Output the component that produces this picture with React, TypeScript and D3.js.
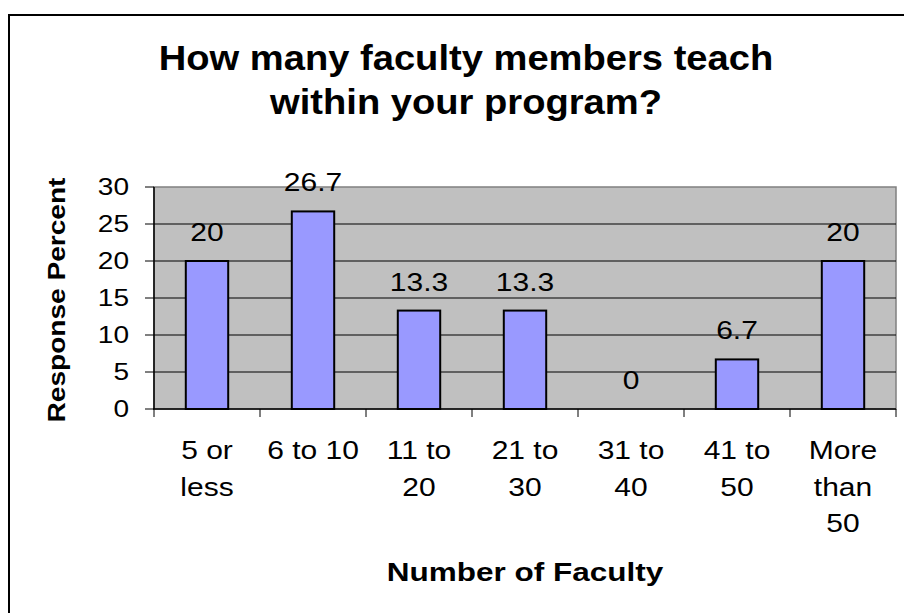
import React from 'react';
import * as d3 from 'd3';

// chart values
const categories = ['5 or less', '6 to 10', '11 to 20', '21 to 30', '31 to 40', '41 to 50', 'More than 50'];
const categoryLines = [['5 or', 'less'], ['6 to 10'], ['11 to', '20'], ['21 to', '30'], ['31 to', '40'], ['41 to', '50'], ['More', 'than', '50']];
const percents = [20, 26.7, 13.3, 13.3, 0, 6.7, 20];
const yTicks = [0, 5, 10, 15, 20, 25, 30];
const titleLines = ['How many faculty members teach', 'within your program?'];

const W = 904, H = 613;
const plot = { left: 154, right: 896, top: 187, bottom: 409 };
const font = 'Arial, "Liberation Sans", sans-serif';

// the reference font renders wider than Arial, so text gets a horizontal stretch
function SText({ x, y, sx = 1.2, rotate = 0, anchor = 'middle', size = 25, bold = false, children }: any) {
  return (
    <g transform={`translate(${x},${y}) rotate(${rotate}) scale(${sx},1)`}>
      <text textAnchor={anchor} fontSize={size} fontWeight={bold ? 'bold' : 'normal'}>{children}</text>
    </g>
  );
}

export default function App() {
  const x = d3.scaleBand<string>()
    .domain(categories)
    .range([plot.left, plot.right])
    .paddingInner(0.6)
    .paddingOuter(0.3);
  const y = d3.scaleLinear().domain([0, 30]).range([plot.bottom, plot.top]);
  const step = x.step();
  const boundaries = d3.range(categories.length + 1).map(i => plot.left + i * step);
  const mid = (c: string) => x(c)! + x.bandwidth() / 2;

  return (
    <div style={{ position: 'fixed', left: 0, top: 0 }}>
      <svg width={W} height={H} style={{ display: 'block', background: '#fff' }} fontFamily={font}>
        {/* chart frame */}
        <rect x={9} y={15} width={1000} height={1000} fill="none" stroke="#000" strokeWidth={2} />

        {titleLines.map((t, i) => (
          <SText key={t} x={466} y={70 + i * 44} size={35} sx={1.09} bold>{t}</SText>
        ))}

        {/* plot area */}
        <rect x={plot.left} y={plot.top} width={plot.right - plot.left} height={plot.bottom - plot.top}
          fill="#c0c0c0" stroke="#808080" strokeWidth={1.5} />
        {yTicks.slice(1, -1).map(t => (
          <line key={t} x1={plot.left} x2={plot.right} y1={y(t)} y2={y(t)} stroke="#000" strokeWidth={1} />
        ))}

        {categories.map((c, i) => (
          <rect key={c} x={x(c)} y={y(percents[i])} width={x.bandwidth()} height={plot.bottom - y(percents[i])}
            fill="#9999ff" stroke="#000" strokeWidth={2} />
        ))}

        {/* axes */}
        <line x1={plot.left} x2={plot.left} y1={plot.top} y2={plot.bottom} stroke="#000" strokeWidth={1.5} />
        <line x1={plot.left - 1} x2={plot.right} y1={plot.bottom} y2={plot.bottom} stroke="#000" strokeWidth={1.5} />
        {yTicks.map(t => (
          <g key={t}>
            <line x1={plot.left - 9} x2={plot.left} y1={y(t)} y2={y(t)} stroke="#000" strokeWidth={1} />
            <SText x={129} y={y(t) + 8} anchor="end" size={23} sx={1.22}>{t}</SText>
          </g>
        ))}
        {boundaries.map((b, i) => (
          <line key={i} x1={b} x2={b} y1={plot.bottom} y2={plot.bottom + 8} stroke="#000" strokeWidth={1} />
        ))}

        {/* data labels */}
        {categories.map((c, i) => (
          <SText key={c} x={mid(c)} y={y(percents[i]) - 20}>{percents[i]}</SText>
        ))}

        {/* category labels */}
        {categoryLines.map((lines, i) =>
          lines.map((l, j) => (
            <SText key={i + '-' + j} x={mid(categories[i])} y={459 + j * 36.5}>{l}</SText>
          ))
        )}

        <SText x={(plot.left + plot.right) / 2} y={581} size={25} sx={1.26} bold>Number of Faculty</SText>
        <SText x={65} y={(plot.top + plot.bottom) / 2 + 2} rotate={-90} size={24} sx={1.17} bold>Response Percent</SText>
      </svg>
    </div>
  );
}
